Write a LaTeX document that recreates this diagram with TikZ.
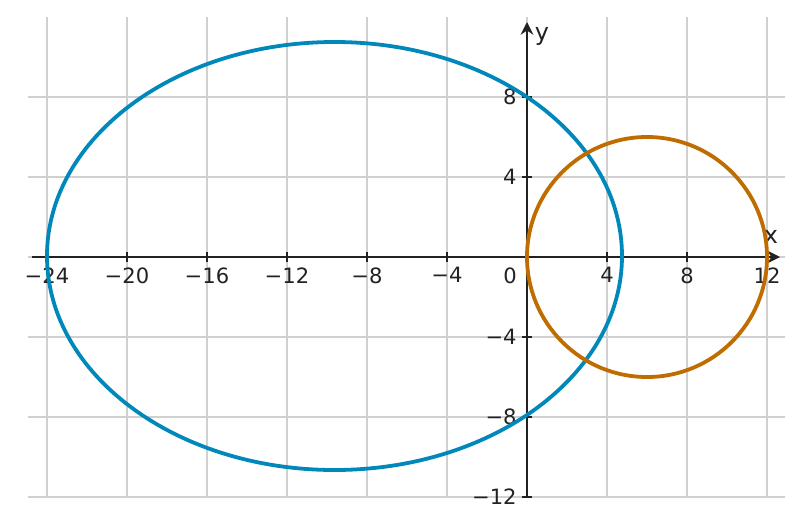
\documentclass[tikz,border=0pt]{standalone}
\usepackage{fontspec}
\setmainfont{DejaVu Sans}
\usetikzlibrary{arrows.meta}
\definecolor{cblue}{HTML}{0088BB}
\definecolor{corange}{HTML}{BF6C00}
\definecolor{cgrid}{HTML}{D0D0D0}
\definecolor{caxis}{HTML}{222222}
\begin{document}
\begin{tikzpicture}[x=0.25cm,y=0.25cm,font=\fontsize{7.5}{9}\selectfont,
  grid/.style={cgrid,line width=0.4pt},
  axis/.style={caxis,line width=0.8pt,-{Stealth[length=4.5pt,width=4.5pt]}},
  curve/.style={line width=1.35pt},
  lbl/.style={text=caxis,inner sep=1pt}]
\useasboundingbox (-26.35,-13.35) rectangle (13.85,12.85);
\foreach \x in {-24,-20,...,12} \draw[grid] (\x,-12) -- (\x,12);
\foreach \y in {-12,-8,...,8} \draw[grid] (-24.95,\y) -- (12.9,\y);
\draw[axis] (-24.75,0) -- (12.65,0);
\draw[axis] (0,-12) -- (0,11.75);
\foreach \x/\t in {-24/−24,-20/−20,-16/−16,-12/−12,-8/−8,-4/−4,4/4,8/8,12/12} {\draw[caxis,line width=0.7pt] (\x,0.25) -- (\x,-0.25);
  \node[lbl,anchor=north] at (\x,-0.35) {\t};}
\foreach \y/\t in {-12/−12,-8/−8,-4/−4,4/4,8/8} {\draw[caxis,line width=0.7pt] (-0.25,\y) -- (0.25,\y);
  \node[lbl,anchor=east] at (-0.35,\y) {\t};}
\node[lbl,anchor=north] at (-0.85,-0.35) {0};
\node[lbl,font=\fontsize{8.5}{10}\selectfont] at (12.2,1) {x};
\node[lbl,font=\fontsize{8.5}{10}\selectfont] at (0.75,11.05) {y};
\draw[curve,cblue] (-9.625,0.05) ellipse [x radius=14.375, y radius=10.7];
\draw[curve,corange] (6,0) circle [radius=6];
\end{tikzpicture}
\end{document}
